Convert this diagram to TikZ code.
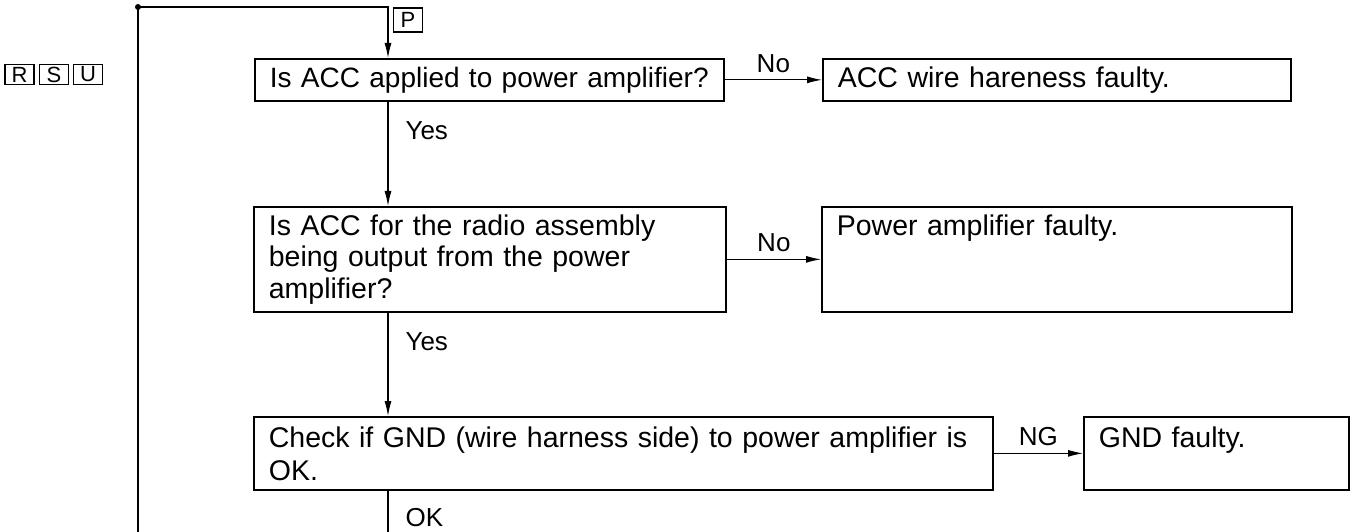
\documentclass[tikz,border=0pt]{standalone}
\usepackage{fontspec}
\setmainfont{Liberation Sans}
\usetikzlibrary{arrows.meta}
\hyphenpenalty=10000
\exhyphenpenalty=10000
\begin{document}
\begin{tikzpicture}[x=1pt,y=-1pt,
  box/.style={draw, line width=1.7pt, anchor=north west, inner xsep=15pt, inner ysep=0pt, align=left, font=\fontsize{28.5}{31.5}\selectfont},
  conn/.style={line width=1.1pt},
  arr/.style={conn, -{Latex[length=15pt,width=7pt]}},
  lbl/.style={font=\fontsize{26}{30}\selectfont, inner sep=0pt},
  tag/.style={draw, line width=1.4pt, minimum width=29pt, minimum height=20pt, inner sep=0pt, font=\fontsize{22}{22}\selectfont}]
\useasboundingbox (0,0) rectangle (1353,532);

% boxes
\node[box, text width=439pt, minimum height=42pt, font=\fontsize{28}{31.5}\selectfont] (b1) at (254,58) {\mbox{Is ACC applied to power amplifier?}};
\node[box, text width=438pt, minimum height=42pt] (b2) at (822,58) {ACC wire hareness faulty.};
\node[box, text width=442pt, minimum height=105pt] (b3) at (253,206) {Is ACC for the radio assembly\\being output from the power\\amplifier?};
\node[box, text width=440pt, minimum height=105pt] (b4) at (821,206) {Power amplifier faulty.\\\mbox{}\\\vphantom{amplifier?}};
\node[box, text width=709pt, minimum height=73pt, font=\fontsize{28.5}{33}\selectfont] (b5) at (253,416) {Check if GND (wire harness side) to power amplifier is\\OK.};
\node[box, text width=235pt, minimum height=73pt, font=\fontsize{28.5}{33}\selectfont] (b6) at (1083,416) {GND faulty.\\\vphantom{OK.}};

% tags
\node[tag] (tr) at (19.5,74.5) {R};
\node[tag] (ts) at (54,74.5) {S};
\node[tag] (tu) at (88,74.5) {U};
\node[tag, minimum height=24pt] (tp) at (408,20) {P};

% coordinates
\coordinate (dot) at (138,7);
\coordinate (v) at (388,0);
\coordinate (lb) at (138,532);
\coordinate (ob) at (388,532);

\fill (dot) circle (3pt);
\draw[conn] (dot) -- (lb);
\draw[arr] (dot) -| (b1.north -| v);

\draw[arr] (b1.east) -- node[lbl, above=7pt] (n1) {No} (b2.west);
\draw[arr] (b1.south -| v) -- node[lbl, pos=0.28, right=17pt] (y1) {Yes} (b3.north -| v);
\draw[arr] (b3.east) -- node[lbl, above=7pt] (n2) {No} (b4.west);
\draw[arr] (b3.south -| v) -- node[lbl, pos=0.28, right=17pt] (y2) {Yes} (b5.north -| v);
\draw[arr] (b5.east) -- node[lbl, above=7pt] (ng) {NG} (b6.west);
\draw[conn] (b5.south -| v) -- node[lbl, pos=0.65, right=17pt] (ok) {OK} (ob);
\end{tikzpicture}
\end{document}
